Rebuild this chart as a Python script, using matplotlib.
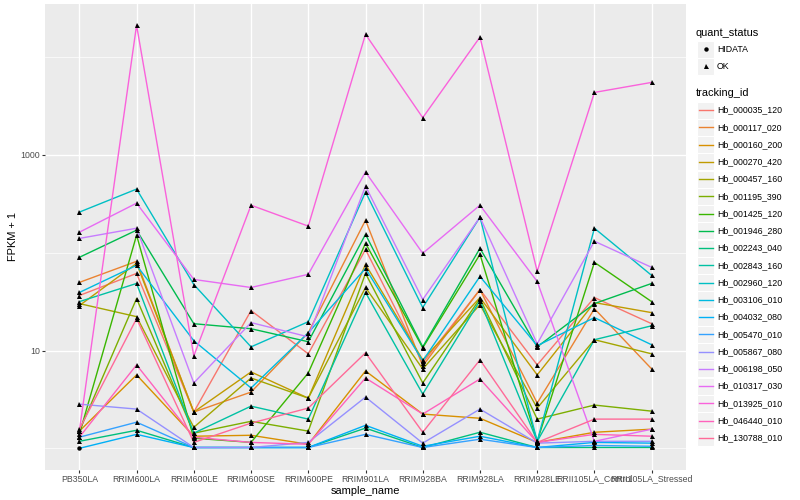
import math
import numpy as np
import matplotlib
matplotlib.use("Agg")
import matplotlib.pyplot as plt
from matplotlib.patches import Rectangle
from matplotlib.lines import Line2D

# ---------------- data ----------------
samples = ["PB350LA", "RRIM600LA", "RRIM600LE", "RRIM600SE", "RRIM600PE",
           "RRIM901LA", "RRIM928BA", "RRIM928LA", "RRIM928LE",
           "RRII105LA_Control", "RRII105LA_Stressed"]

tracking_ids = ["Hb_000035_120", "Hb_000117_020", "Hb_000160_200", "Hb_000270_420",
                "Hb_000457_160", "Hb_001195_390", "Hb_001425_120", "Hb_001946_280",
                "Hb_002243_040", "Hb_002843_160", "Hb_002960_120", "Hb_003106_010",
                "Hb_004032_080", "Hb_005470_010", "Hb_005867_080", "Hb_006198_050",
                "Hb_010317_030", "Hb_013925_010", "Hb_046440_010", "Hb_130788_010"]

# FPKM values per gene, in the order of `samples`
hb_000035_120 = [35.5, 60.4, 1.35, 24.6, 8.25, 107, 6.48, 41.0, 6.13, 33.8, 17.8]
hb_000117_020 = [48.7, 80.6, 1.35, 2.76, 14.2, 214, 5.96, 41.0, 1.90, 25.8, 5.48]
hb_000160_200 = [0.50, 4.63, 0.33, 0.36, 0.10, 5.18, 1.24, 1.03, 0.15, 0.46, 0.57]
hb_000270_420 = [27.8, 76.8, 1.35, 5.04, 2.26, 75.0, 7.03, 33.8, 4.63, 29.9, 23.4]
hb_000457_160 = [29.2, 21.2, 0.64, 4.24, 2.26, 43.1, 5.48, 28.5, 1.58, 11.9, 8.25]
hb_001195_390 = [0.50, 33.0, 0.43, 0.89, 0.50, 60.4, 3.66, 33.0, 0.99, 1.77, 1.40]
hb_001425_120 = [0.39, 150, 0.27, 0.15, 4.90, 124, 9.66, 95.2, 0.18, 78.7, 30.6]
hb_001946_280 = [88.7, 169, 17.8, 15.7, 11.3, 153, 9.90, 110, 9.90, 29.2, 47.5]
hb_002243_040 = [0.18, 0.53, 0.02, 0.02, 0.02, 0.61, 0.02, 0.46, 0.02, 0.02, 0.02]
hb_002843_160 = [30.6, 47.5, 0.43, 1.70, 0.99, 38.2, 2.59, 31.4, 0.18, 11.9, 16.9]
hb_002960_120 = [259, 446, 46.3, 9.90, 18.7, 416, 26.5, 230, 0.18, 177, 57.6]
hb_003106_010 = [38.2, 73.3, 11.6, 3.14, 14.2, 68.1, 6.84, 56.2, 10.2, 20.7, 10.45]
hb_004032_080 = [0.00, 0.39, 0.02, 0.02, 0.02, 0.72, 0.05, 0.33, 0.02, 0.15, 0.13]
hb_005470_010 = [0.30, 0.85, 0.02, 0.02, 0.02, 0.39, 0.02, 0.24, 0.02, 0.07, 0.05]
hb_005867_080 = [1.83, 1.52, 0.02, 0.02, 0.15, 2.34, 0.13, 1.52, 0.13, 0.18, 0.18]
hb_006198_050 = [139, 177, 3.66, 18.3, 12.8, 479, 32.2, 230, 10.7, 130, 69.8]
hb_010317_030 = [161, 320, 52.3, 43.1, 59.1, 667, 97.6, 305, 49.8, 0.18, 0.57]
hb_013925_010 = [0.50, 21200, 7.8, 305, 186, 17100, 2400, 16000, 63.5, 4350, 5510]
hb_046440_010 = [0.30, 6.13, 0.30, 0.15, 0.10, 4.24, 1.24, 4.12, 0.15, 0.39, 0.33]
hb_130788_010 = [0.57, 20.2, 0.15, 0.81, 1.58, 8.47, 0.46, 7.03, 0.15, 0.99, 0.99]

fpkm_series = [hb_000035_120, hb_000117_020, hb_000160_200, hb_000270_420,
               hb_000457_160, hb_001195_390, hb_001425_120, hb_001946_280,
               hb_002243_040, hb_002843_160, hb_002960_120, hb_003106_010,
               hb_004032_080, hb_005470_010, hb_005867_080, hb_006198_050,
               hb_010317_030, hb_013925_010, hb_046440_010, hb_130788_010]

# quant_status: everything "OK" except these (gene, sample) points
hidata_points = [("Hb_004032_080", "PB350LA")]
status_levels = ["HIDATA", "OK"]

y_ticks = [10, 1000]
y_tick_labels = ["10", "1000"]
y_minor = [1, 100, 10000]


# ---------------- colours (ggplot2 hue palette) ----------------
def hcl_hex(h, c=100.0, l=65.0):
    Xn, Yn, Zn = 95.047, 100.0, 108.883
    hr = math.radians(h)
    u, v = c * math.cos(hr), c * math.sin(hr)
    Y = Yn * ((l + 16) / 116) ** 3 if l > 8 else Yn * l / 903.3
    den = Xn + 15 * Yn + 3 * Zn
    un, vn = 4 * Xn / den, 9 * Yn / den
    up, vp = u / (13 * l) + un, v / (13 * l) + vn
    X = 9.0 * Y * up / (4 * vp)
    Z = -X / 3 - 5 * Y + 3 * Y / vp
    X, Y, Z = X / 100, Y / 100, Z / 100
    r = 3.240479 * X - 1.537150 * Y - 0.498535 * Z
    g = -0.969256 * X + 1.875992 * Y + 0.041556 * Z
    b = 0.055648 * X - 0.204043 * Y + 1.057311 * Z

    def gam(t):
        t = 12.92 * t if t <= 0.0031308 else 1.055 * t ** (1 / 2.4) - 0.055
        return min(1.0, max(0.0, t))
    return (gam(r), gam(g), gam(b))


n = len(tracking_ids)
hues = np.linspace(15, 375, n + 1)[:n]
colors = [hcl_hex(h) for h in hues]

# ---------------- figure ----------------
plt.rcParams["font.family"] = ["Liberation Sans", "DejaVu Sans"]
W, H = 800, 500
fig = plt.figure(figsize=(8, 5), dpi=100)
fig.patch.set_facecolor("white")

pl, pr, pt, pb = 45, 686, 4, 469.5
ax = fig.add_axes([pl / W, 1 - pb / H, (pr - pl) / W, (pb - pt) / H])
ax.set_facecolor("#EBEBEB")
for s in ax.spines.values():
    s.set_visible(False)

x = np.arange(len(samples))
for tid, vals, col in zip(tracking_ids, fpkm_series, colors):
    ax.plot(x, np.array(vals) + 1, color=col, lw=1.0, zorder=3, solid_capstyle="butt")

for tid, vals in zip(tracking_ids, fpkm_series):
    for i, v in enumerate(vals):
        hid = (tid, samples[i]) in hidata_points
        ax.plot(i, v + 1, marker="o" if hid else "^", color="black",
                markersize=3.2 if hid else 3.6, markeredgewidth=0, zorder=4)

ax.set_yscale("log")
allv = np.concatenate([np.array(v) + 1 for v in fpkm_series])
lo, hi = np.log10(allv.min()), np.log10(allv.max())
span = hi - lo
ax.set_ylim(10 ** (lo - 0.05 * span), 10 ** (hi + 0.05 * span))
ax.set_xlim(-0.6, len(samples) - 0.4)

ax.set_yticks(y_ticks)
ax.set_yticklabels(y_tick_labels)
ax.set_yticks(y_minor, minor=True)
ax.yaxis.set_minor_formatter(matplotlib.ticker.NullFormatter())
ax.set_xticks(x)
ax.set_xticklabels(samples)
ax.tick_params(axis="both", which="major", length=2.0, width=0.8, color="#333333",
               labelsize=6.3, labelcolor="#4D4D4D", pad=1.6)
ax.tick_params(axis="y", which="minor", length=0)
ax.grid(True, which="major", color="white", lw=1.0)
ax.grid(True, which="minor", axis="y", color="white", lw=0.5)
ax.set_axisbelow(True)

ax.set_xlabel("sample_name", fontsize=7.9, labelpad=2.0)
ax.set_ylabel("FPKM + 1", fontsize=7.9, labelpad=1.5)

# ---------------- legend (drawn in pixel coordinates) ----------------
lg = fig.add_axes([0, 0, 1, 1])
lg.set_xlim(0, W)
lg.set_ylim(H, 0)
lg.axis("off")
lg.patch.set_alpha(0)

kx0, ksz = 697.3, 17.0
tx = 717
lg.text(696, 32.7, "quant_status", fontsize=7.9, va="center", ha="left")
for j, (lab, mk) in enumerate(zip(status_levels, ["o", "^"])):
    cy = 49.0 + j * 17.25
    lg.add_patch(Rectangle((kx0, cy - ksz / 2), ksz, ksz, facecolor="#F2F2F2",
                           edgecolor="white", lw=0.8))
    lg.plot(kx0 + ksz / 2, cy, marker=mk, color="black",
            markersize=3.2 if mk == "o" else 3.6, markeredgewidth=0)
    lg.text(tx, cy, lab, fontsize=6.3, va="center", ha="left")

lg.text(696, 93.3, "tracking_id", fontsize=7.9, va="center", ha="left")
for j, (lab, col) in enumerate(zip(tracking_ids, colors)):
    cy = 110.0 + j * 17.25
    lg.add_patch(Rectangle((kx0, cy - ksz / 2), ksz, ksz, facecolor="#F2F2F2",
                           edgecolor="white", lw=0.8))
    lg.add_line(Line2D([kx0 + 1.5, kx0 + ksz - 1.5], [cy, cy], color=col, lw=1.0))
    lg.text(tx, cy, lab, fontsize=6.3, va="center", ha="left")

fig.savefig("out.png", dpi=100)
